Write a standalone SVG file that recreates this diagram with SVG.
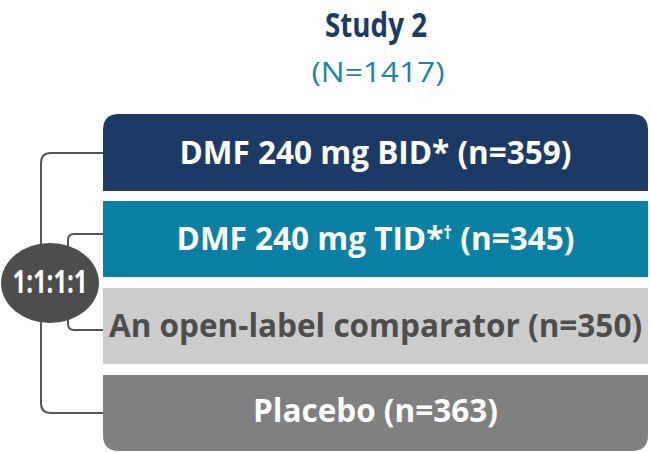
<svg xmlns="http://www.w3.org/2000/svg" width="650" height="452" viewBox="0 0 650 452">
<style>
.lbl{font-family:"Open Sans","Noto Sans",sans-serif;font-weight:bold;font-size:31.5px;text-anchor:middle}
.conn{fill:none;stroke:#555;stroke-width:2}
</style>
<rect width="650" height="452" fill="#fff"/>
<g id="title">
<text x="376" y="37" font-family="'Open Sans',sans-serif" font-weight="bold" font-size="34" fill="#1b3a66" text-anchor="middle" textLength="102" lengthAdjust="spacingAndGlyphs">Study 2</text>
<text x="378" y="82" font-family="'Open Sans',sans-serif" font-size="27" fill="#1a85a8" text-anchor="middle" textLength="133" lengthAdjust="spacingAndGlyphs">(N=1417)</text>
</g>
<g id="connectors">
<path class="conn" d="M103,153 H51 Q41,153 41,163 V260 M41,305 V403 Q41,413 51,413 H103"/>
<path class="conn" d="M103,234 H74 Q68,234 68,240 V260 M68,305 V324 Q68,330 74,330 H103"/>
</g>
<g id="arm1">
<path d="M103,191 V130 Q103,114 119,114 H632 Q648,114 648,130 V191 Z" fill="#1b3a66"/>
<text class="lbl" x="375.5" y="164" fill="#fff">DMF 240 mg BID* (n=359)</text>
</g>
<g id="arm2">
<rect x="103" y="201" width="545" height="76" fill="#0b80a5"/>
<text class="lbl" x="375.5" y="250" fill="#fff">DMF 240 mg TID*<tspan font-size="17" dy="-11">†</tspan><tspan dy="11"> (n=345)</tspan></text>
</g>
<g id="arm3">
<rect x="103" y="288" width="545" height="76" fill="#cccccc"/>
<text class="lbl" x="375.5" y="337" fill="#4d4d4d">An open-label comparator (n=350)</text>
</g>
<g id="arm4">
<path d="M103,375 H648 V435 Q648,451 632,451 H119 Q103,451 103,435 Z" fill="#808080"/>
<text class="lbl" x="375.5" y="422" fill="#fff">Placebo (n=363)</text>
</g>
<g id="ratio">
<ellipse cx="50" cy="283" rx="49" ry="40" fill="#4d4d4d"/>
<text x="50" y="293" font-family="'Open Sans',sans-serif" font-weight="bold" font-size="33" fill="#fff" text-anchor="middle" textLength="75" lengthAdjust="spacingAndGlyphs">1:1:1:1</text>
</g>
</svg>
